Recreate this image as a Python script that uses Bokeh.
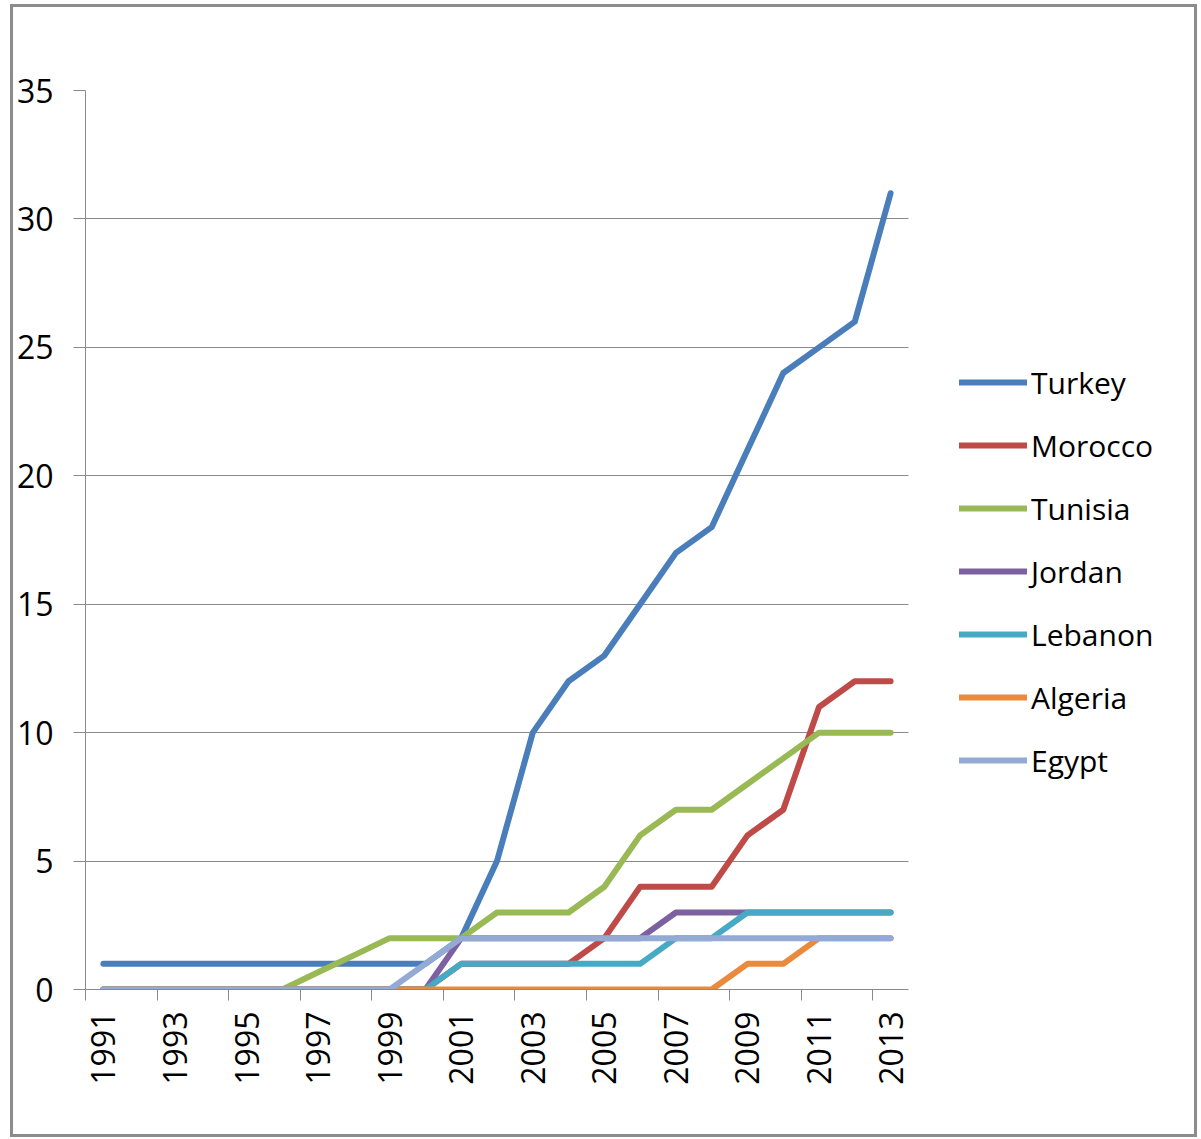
import math
from bokeh.plotting import figure
from bokeh.models import Range1d, FixedTicker, Legend, LegendItem, BoxAnnotation
from bokeh.embed import file_html
from bokeh.resources import INLINE

years = [1991, 1992, 1993, 1994, 1995, 1996, 1997, 1998, 1999, 2000, 2001, 2002,
         2003, 2004, 2005, 2006, 2007, 2008, 2009, 2010, 2011, 2012, 2013]
turkey = [1, 1, 1, 1, 1, 1, 1, 1, 1, 1, 2, 5, 10, 12, 13, 15, 17, 18, 21, 24, 25, 26, 31]
morocco = [0, 0, 0, 0, 0, 0, 0, 0, 0, 0, 1, 1, 1, 1, 2, 4, 4, 4, 6, 7, 11, 12, 12]
tunisia = [0, 0, 0, 0, 0, 0, 0.67, 1.33, 2, 2, 2, 3, 3, 3, 4, 6, 7, 7, 8, 9, 10, 10, 10]
jordan = [0, 0, 0, 0, 0, 0, 0, 0, 0, 0, 2, 2, 2, 2, 2, 2, 3, 3, 3, 3, 3, 3, 3]
lebanon = [0, 0, 0, 0, 0, 0, 0, 0, 0, 0, 1, 1, 1, 1, 1, 1, 2, 2, 3, 3, 3, 3, 3]
algeria = [0, 0, 0, 0, 0, 0, 0, 0, 0, 0, 0, 0, 0, 0, 0, 0, 0, 0, 1, 1, 2, 2, 2]
egypt = [0, 0, 0, 0, 0, 0, 0, 0, 0, 1, 2, 2, 2, 2, 2, 2, 2, 2, 2, 2, 2, 2, 2]

series_names = ["Turkey", "Morocco", "Tunisia", "Jordan", "Lebanon", "Algeria", "Egypt"]
series_values = [turkey, morocco, tunisia, jordan, lebanon, algeria, egypt]
series_colors = ["#4A7EBB", "#BE4B48", "#98B954", "#7D60A0", "#46AAC5", "#E98A3C", "#93AAD4"]
y_ticks = [0, 5, 10, 15, 20, 25, 30, 35]

FONT = "Open Sans"
GRID = "#8a8a8a"

n = len(years)
xs = [i + 0.5 for i in range(n)]

# plot area 823 px wide; frame extended to the right to hold the legend
plot_px = 823
frame_px = 1109
x_end = n * frame_px / plot_px

p = figure(frame_width=frame_px, frame_height=899, output_backend="svg",
           toolbar_location=None,
           x_range=Range1d(0, x_end), y_range=Range1d(0, 35),
           min_border_left=70, min_border_right=0, min_border_top=83,
           min_border_bottom=145)
p.styles = {"border": "3px solid #8c8c8c", "margin-left": "10px", "margin-top": "4px"}
p.outline_line_color = None
p.background_fill_color = "white"

p.xgrid.visible = False
p.ygrid.grid_line_color = GRID
p.ygrid.grid_line_width = 1
p.ygrid.ticker = FixedTicker(ticks=y_ticks)

# white cover so grid lines stop at the end of the category axis
p.add_layout(BoxAnnotation(left=n, fill_color="white", fill_alpha=1.0,
                           line_color=None, level="underlay"))

# y axis
p.yaxis.ticker = FixedTicker(ticks=y_ticks)
p.yaxis.axis_line_color = GRID
p.yaxis.major_tick_line_color = GRID
p.yaxis.major_tick_out = 12
p.yaxis.major_tick_in = 0
p.yaxis.minor_tick_out = 0
p.yaxis.minor_tick_in = 0
p.yaxis.major_label_standoff = 20
p.yaxis.major_label_text_font = FONT
p.yaxis.major_label_text_font_size = "32px"
p.yaxis.major_label_text_color = "#000000"

# x axis: labels every other year at category centres, ticks at category boundaries
label_pos = xs[::2]
boundary_pos = [float(i) for i in range(0, n, 2)]
p.xaxis.ticker = FixedTicker(ticks=label_pos, minor_ticks=boundary_pos)
p.xaxis.major_label_overrides = {xs[i]: str(years[i]) for i in range(0, n, 2)}
p.xaxis.bounds = (0, n)
p.xaxis.axis_line_color = GRID
p.xaxis.major_tick_out = 0
p.xaxis.major_tick_in = 0
p.xaxis.minor_tick_out = 11
p.xaxis.minor_tick_in = 0
p.xaxis.minor_tick_line_color = GRID
p.xaxis.major_label_orientation = math.pi / 2
p.xaxis.major_label_standoff = 11
p.xaxis.major_label_text_font = FONT
p.xaxis.major_label_text_font_size = "32px"
p.xaxis.major_label_text_color = "#000000"

items = []
for name, vals, col in zip(series_names, series_values, series_colors):
    r = p.line(xs, vals, line_color=col, line_width=6, line_cap="round", line_join="round")
    items.append(LegendItem(label=name, renderers=[r]))

legend = Legend(items=items, location=(874, 207))
legend.glyph_width = 68
legend.glyph_height = 44
legend.label_height = 44
legend.spacing = 19
legend.label_standoff = 4
legend.padding = 0
legend.margin = 0
legend.border_line_color = None
legend.background_fill_alpha = 0
legend.label_text_font = FONT
legend.label_text_font_size = "30px"
legend.label_text_color = "#000000"
legend.label_text_baseline = "middle"
p.add_layout(legend, "center")

open("out.html", "w").write(file_html(p, INLINE))
